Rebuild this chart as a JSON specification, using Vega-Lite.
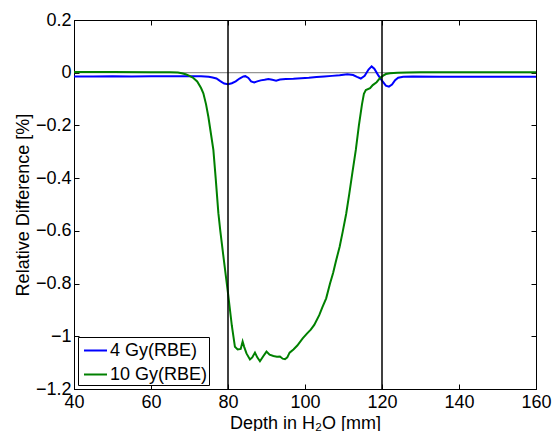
{
  "$schema": "https://vega.github.io/schema/vega-lite/v6.json",
  "width": 462,
  "height": 369,
  "autosize": {"type": "none"},
  "padding": {"left": 74, "top": 20, "right": 16, "bottom": 42},
  "background": "white",
  "config": {
    "font": "Liberation Sans",
    "view": {"stroke": "black", "strokeWidth": 1},
    "axis": {
      "grid": false,
      "domainColor": "black",
      "tickColor": "black",
      "tickSize": -5,
      "labelColor": "black",
      "labelFont": "Liberation Sans",
      "labelFontSize": 18,
      "titleFont": "Liberation Sans",
      "titleFontSize": 18,
      "titleFontWeight": "normal",
      "titleColor": "black",
      "labelFlush": false,
      "labelOverlap": false
    },
    "legend": {
      "orient": "bottom-left",
      "offset": 4,
      "strokeColor": "black",
      "fillColor": "white",
      "padding": 1,
      "rowPadding": 2,
      "symbolOffset": 4,
      "labelFont": "Liberation Sans",
      "labelFontSize": 18,
      "labelColor": "black",
      "labelOffset": 2,
      "symbolType": "stroke",
      "symbolStrokeWidth": 2,
      "symbolSize": 529
    }
  },
  "layer": [
    {
      "data": {"values": [{"level": 0}]},
      "mark": {"type": "rule", "color": "#7a7a7a", "strokeWidth": 1},
      "encoding": {
        "y": {
          "field": "level", "type": "quantitative",
          "scale": {"domain": [-1.2, 0.2], "nice": false, "zero": false},
          "axis": {"orient": "right", "labels": false, "title": null, "values": [-1.2, -1, -0.8, -0.6, -0.4, -0.2, 0, 0.2]}
        }
      }
    },
    {
      "data": {"values": [
        {"depth": 40, "diff": -0.014, "series": "4 Gy(RBE)"},
        {"depth": 45, "diff": -0.014, "series": "4 Gy(RBE)"},
        {"depth": 50, "diff": -0.013, "series": "4 Gy(RBE)"},
        {"depth": 55, "diff": -0.014, "series": "4 Gy(RBE)"},
        {"depth": 60, "diff": -0.013, "series": "4 Gy(RBE)"},
        {"depth": 65, "diff": -0.013, "series": "4 Gy(RBE)"},
        {"depth": 70, "diff": -0.013, "series": "4 Gy(RBE)"},
        {"depth": 73, "diff": -0.013, "series": "4 Gy(RBE)"},
        {"depth": 75, "diff": -0.015, "series": "4 Gy(RBE)"},
        {"depth": 76, "diff": -0.018, "series": "4 Gy(RBE)"},
        {"depth": 77, "diff": -0.022, "series": "4 Gy(RBE)"},
        {"depth": 78, "diff": -0.032, "series": "4 Gy(RBE)"},
        {"depth": 79, "diff": -0.041, "series": "4 Gy(RBE)"},
        {"depth": 80, "diff": -0.044, "series": "4 Gy(RBE)"},
        {"depth": 81, "diff": -0.04, "series": "4 Gy(RBE)"},
        {"depth": 82, "diff": -0.033, "series": "4 Gy(RBE)"},
        {"depth": 83, "diff": -0.022, "series": "4 Gy(RBE)"},
        {"depth": 84, "diff": -0.014, "series": "4 Gy(RBE)"},
        {"depth": 84.5, "diff": -0.013, "series": "4 Gy(RBE)"},
        {"depth": 85.3, "diff": -0.02, "series": "4 Gy(RBE)"},
        {"depth": 86, "diff": -0.033, "series": "4 Gy(RBE)"},
        {"depth": 86.8, "diff": -0.037, "series": "4 Gy(RBE)"},
        {"depth": 87.6, "diff": -0.033, "series": "4 Gy(RBE)"},
        {"depth": 88.5, "diff": -0.029, "series": "4 Gy(RBE)"},
        {"depth": 89.5, "diff": -0.027, "series": "4 Gy(RBE)"},
        {"depth": 90.5, "diff": -0.024, "series": "4 Gy(RBE)"},
        {"depth": 91.5, "diff": -0.027, "series": "4 Gy(RBE)"},
        {"depth": 92.5, "diff": -0.03, "series": "4 Gy(RBE)"},
        {"depth": 93.5, "diff": -0.026, "series": "4 Gy(RBE)"},
        {"depth": 95, "diff": -0.024, "series": "4 Gy(RBE)"},
        {"depth": 97, "diff": -0.023, "series": "4 Gy(RBE)"},
        {"depth": 99, "diff": -0.021, "series": "4 Gy(RBE)"},
        {"depth": 101, "diff": -0.019, "series": "4 Gy(RBE)"},
        {"depth": 103, "diff": -0.016, "series": "4 Gy(RBE)"},
        {"depth": 105, "diff": -0.014, "series": "4 Gy(RBE)"},
        {"depth": 107, "diff": -0.012, "series": "4 Gy(RBE)"},
        {"depth": 109, "diff": -0.01, "series": "4 Gy(RBE)"},
        {"depth": 111, "diff": -0.006, "series": "4 Gy(RBE)"},
        {"depth": 112.5, "diff": -0.009, "series": "4 Gy(RBE)"},
        {"depth": 113.5, "diff": -0.016, "series": "4 Gy(RBE)"},
        {"depth": 114.5, "diff": -0.022, "series": "4 Gy(RBE)"},
        {"depth": 115.5, "diff": -0.012, "series": "4 Gy(RBE)"},
        {"depth": 116.5, "diff": 0.012, "series": "4 Gy(RBE)"},
        {"depth": 117.3, "diff": 0.024, "series": "4 Gy(RBE)"},
        {"depth": 118, "diff": 0.015, "series": "4 Gy(RBE)"},
        {"depth": 119, "diff": -0.009, "series": "4 Gy(RBE)"},
        {"depth": 120, "diff": -0.03, "series": "4 Gy(RBE)"},
        {"depth": 121, "diff": -0.049, "series": "4 Gy(RBE)"},
        {"depth": 121.8, "diff": -0.053, "series": "4 Gy(RBE)"},
        {"depth": 122.6, "diff": -0.045, "series": "4 Gy(RBE)"},
        {"depth": 123.4, "diff": -0.028, "series": "4 Gy(RBE)"},
        {"depth": 124.2, "diff": -0.019, "series": "4 Gy(RBE)"},
        {"depth": 125.5, "diff": -0.015, "series": "4 Gy(RBE)"},
        {"depth": 128, "diff": -0.014, "series": "4 Gy(RBE)"},
        {"depth": 135, "diff": -0.015, "series": "4 Gy(RBE)"},
        {"depth": 145, "diff": -0.015, "series": "4 Gy(RBE)"},
        {"depth": 160, "diff": -0.015, "series": "4 Gy(RBE)"},
        {"depth": 40, "diff": 0.003, "series": "10 Gy(RBE)"},
        {"depth": 50, "diff": 0.003, "series": "10 Gy(RBE)"},
        {"depth": 60, "diff": 0.002, "series": "10 Gy(RBE)"},
        {"depth": 65, "diff": 0.002, "series": "10 Gy(RBE)"},
        {"depth": 67, "diff": 0.001, "series": "10 Gy(RBE)"},
        {"depth": 68, "diff": -0.002, "series": "10 Gy(RBE)"},
        {"depth": 69, "diff": -0.006, "series": "10 Gy(RBE)"},
        {"depth": 70, "diff": -0.012, "series": "10 Gy(RBE)"},
        {"depth": 71, "diff": -0.02, "series": "10 Gy(RBE)"},
        {"depth": 72, "diff": -0.033, "series": "10 Gy(RBE)"},
        {"depth": 73, "diff": -0.058, "series": "10 Gy(RBE)"},
        {"depth": 73.6, "diff": -0.078, "series": "10 Gy(RBE)"},
        {"depth": 74.3, "diff": -0.12, "series": "10 Gy(RBE)"},
        {"depth": 74.9, "diff": -0.167, "series": "10 Gy(RBE)"},
        {"depth": 75.5, "diff": -0.225, "series": "10 Gy(RBE)"},
        {"depth": 76.2, "diff": -0.293, "series": "10 Gy(RBE)"},
        {"depth": 76.8, "diff": -0.4, "series": "10 Gy(RBE)"},
        {"depth": 77.5, "diff": -0.533, "series": "10 Gy(RBE)"},
        {"depth": 78, "diff": -0.6, "series": "10 Gy(RBE)"},
        {"depth": 79, "diff": -0.72, "series": "10 Gy(RBE)"},
        {"depth": 80, "diff": -0.836, "series": "10 Gy(RBE)"},
        {"depth": 81, "diff": -0.96, "series": "10 Gy(RBE)"},
        {"depth": 81.8, "diff": -1.04, "series": "10 Gy(RBE)"},
        {"depth": 82.5, "diff": -1.05, "series": "10 Gy(RBE)"},
        {"depth": 83.3, "diff": -1.048, "series": "10 Gy(RBE)"},
        {"depth": 83.8, "diff": -1.02, "series": "10 Gy(RBE)"},
        {"depth": 84.2, "diff": -1.04, "series": "10 Gy(RBE)"},
        {"depth": 84.8, "diff": -1.065, "series": "10 Gy(RBE)"},
        {"depth": 85.7, "diff": -1.088, "series": "10 Gy(RBE)"},
        {"depth": 86.3, "diff": -1.08, "series": "10 Gy(RBE)"},
        {"depth": 87, "diff": -1.062, "series": "10 Gy(RBE)"},
        {"depth": 87.6, "diff": -1.08, "series": "10 Gy(RBE)"},
        {"depth": 88.3, "diff": -1.095, "series": "10 Gy(RBE)"},
        {"depth": 89.2, "diff": -1.075, "series": "10 Gy(RBE)"},
        {"depth": 90, "diff": -1.058, "series": "10 Gy(RBE)"},
        {"depth": 90.8, "diff": -1.07, "series": "10 Gy(RBE)"},
        {"depth": 91.8, "diff": -1.075, "series": "10 Gy(RBE)"},
        {"depth": 92.7, "diff": -1.078, "series": "10 Gy(RBE)"},
        {"depth": 93.5, "diff": -1.077, "series": "10 Gy(RBE)"},
        {"depth": 94.2, "diff": -1.085, "series": "10 Gy(RBE)"},
        {"depth": 94.8, "diff": -1.087, "series": "10 Gy(RBE)"},
        {"depth": 95.4, "diff": -1.08, "series": "10 Gy(RBE)"},
        {"depth": 96, "diff": -1.062, "series": "10 Gy(RBE)"},
        {"depth": 97, "diff": -1.05, "series": "10 Gy(RBE)"},
        {"depth": 98, "diff": -1.035, "series": "10 Gy(RBE)"},
        {"depth": 99.4, "diff": -1.008, "series": "10 Gy(RBE)"},
        {"depth": 100.5, "diff": -0.99, "series": "10 Gy(RBE)"},
        {"depth": 101.5, "diff": -0.975, "series": "10 Gy(RBE)"},
        {"depth": 102.4, "diff": -0.957, "series": "10 Gy(RBE)"},
        {"depth": 103.7, "diff": -0.92, "series": "10 Gy(RBE)"},
        {"depth": 104.5, "diff": -0.89, "series": "10 Gy(RBE)"},
        {"depth": 105.5, "diff": -0.856, "series": "10 Gy(RBE)"},
        {"depth": 106.5, "diff": -0.8, "series": "10 Gy(RBE)"},
        {"depth": 107.3, "diff": -0.76, "series": "10 Gy(RBE)"},
        {"depth": 108, "diff": -0.717, "series": "10 Gy(RBE)"},
        {"depth": 109, "diff": -0.66, "series": "10 Gy(RBE)"},
        {"depth": 109.8, "diff": -0.603, "series": "10 Gy(RBE)"},
        {"depth": 110.7, "diff": -0.535, "series": "10 Gy(RBE)"},
        {"depth": 111.5, "diff": -0.46, "series": "10 Gy(RBE)"},
        {"depth": 112.3, "diff": -0.38, "series": "10 Gy(RBE)"},
        {"depth": 113.2, "diff": -0.293, "series": "10 Gy(RBE)"},
        {"depth": 114, "diff": -0.2, "series": "10 Gy(RBE)"},
        {"depth": 114.8, "diff": -0.12, "series": "10 Gy(RBE)"},
        {"depth": 115.3, "diff": -0.08, "series": "10 Gy(RBE)"},
        {"depth": 115.8, "diff": -0.066, "series": "10 Gy(RBE)"},
        {"depth": 116.9, "diff": -0.059, "series": "10 Gy(RBE)"},
        {"depth": 117.6, "diff": -0.047, "series": "10 Gy(RBE)"},
        {"depth": 118.6, "diff": -0.036, "series": "10 Gy(RBE)"},
        {"depth": 119.5, "diff": -0.02, "series": "10 Gy(RBE)"},
        {"depth": 120.3, "diff": -0.011, "series": "10 Gy(RBE)"},
        {"depth": 121, "diff": -0.005, "series": "10 Gy(RBE)"},
        {"depth": 122.1, "diff": -0.002, "series": "10 Gy(RBE)"},
        {"depth": 124, "diff": 0.0, "series": "10 Gy(RBE)"},
        {"depth": 126.4, "diff": 0.001, "series": "10 Gy(RBE)"},
        {"depth": 130, "diff": 0.002, "series": "10 Gy(RBE)"},
        {"depth": 140, "diff": 0.002, "series": "10 Gy(RBE)"},
        {"depth": 150, "diff": 0.002, "series": "10 Gy(RBE)"},
        {"depth": 160, "diff": 0.002, "series": "10 Gy(RBE)"}
      ]},
      "mark": {"type": "line", "strokeWidth": 2},
      "encoding": {
        "x": {
          "field": "depth", "type": "quantitative",
          "scale": {"domain": [40, 160], "nice": false, "zero": false},
          "axis": {"orient": "bottom", "title": "Depth in H₂O [mm]", "values": [40, 60, 80, 100, 120, 140, 160], "labelPadding": 9, "titlePadding": 3}
        },
        "y": {
          "field": "diff", "type": "quantitative",
          "scale": {"domain": [-1.2, 0.2], "nice": false, "zero": false},
          "axis": {"orient": "left", "title": "Relative Difference [%]", "values": [-1.2, -1, -0.8, -0.6, -0.4, -0.2, 0, 0.2], "format": "~g", "labelPadding": 8, "titlePadding": 3}
        },
        "color": {
          "field": "series", "type": "nominal",
          "scale": {"domain": ["4 Gy(RBE)", "10 Gy(RBE)"], "range": ["#0000ff", "#008000"]},
          "legend": {"title": null}
        }
      }
    },
    {
      "data": {"values": [{"edge": 80}, {"edge": 120}]},
      "mark": {"type": "rule", "color": "black", "strokeWidth": 1.5},
      "encoding": {
        "x": {
          "field": "edge", "type": "quantitative",
          "scale": {"domain": [40, 160], "nice": false, "zero": false},
          "axis": {"orient": "top", "labels": false, "title": null, "values": [40, 60, 80, 100, 120, 140, 160]}
        }
      }
    }
  ],
  "resolve": {"axis": {"x": "independent", "y": "independent"}}
}
